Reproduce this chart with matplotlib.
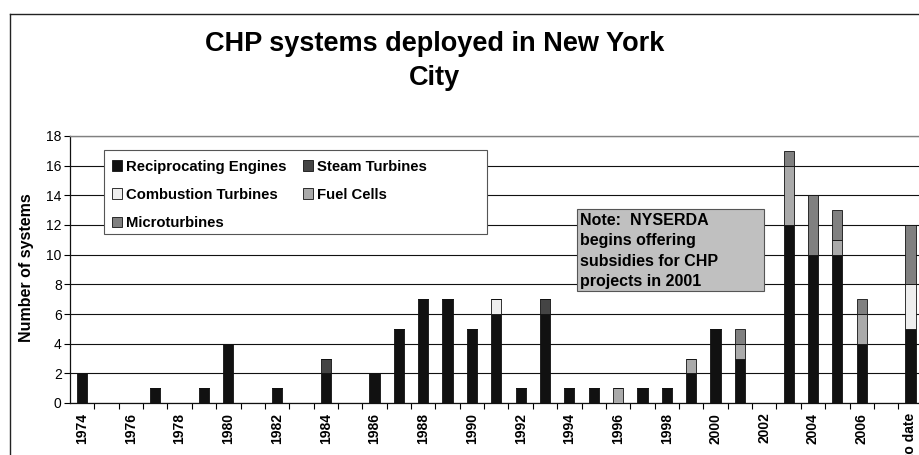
import matplotlib
matplotlib.use("Agg")
import matplotlib.pyplot as plt
import numpy as np

plt.rcParams['font.family'] = ['Liberation Sans', 'DejaVu Sans']

# categories (one per year, last one is cumulative "to date")
years = ['1974', '1975', '1976', '1977', '1978', '1979', '1980', '1981', '1982',
         '1983', '1984', '1985', '1986', '1987', '1988', '1989', '1990', '1991',
         '1992', '1993', '1994', '1995', '1996', '1997', '1998', '1999', '2000',
         '2001', '2002', '2003', '2004', '2005', '2006', '2007', '2008 to date']

# series
recip = [2, 0, 0, 1, 0, 1, 4, 0, 1, 0, 2, 0, 2, 5, 7, 7, 5, 6, 1, 6, 1, 1, 0, 1, 1,
         2, 5, 3, 0, 12, 10, 10, 4, 0, 5]
steam = [0, 0, 0, 0, 0, 0, 0, 0, 0, 0, 1, 0, 0, 0, 0, 0, 0, 0, 0, 1, 0, 0, 0, 0, 0,
         0, 0, 0, 0, 0, 0, 0, 0, 0, 0]
combustion = [0, 0, 0, 0, 0, 0, 0, 0, 0, 0, 0, 0, 0, 0, 0, 0, 0, 1, 0, 0, 0, 0, 0, 0, 0,
              0, 0, 0, 0, 0, 0, 0, 0, 0, 3]
fuel_cells = [0, 0, 0, 0, 0, 0, 0, 0, 0, 0, 0, 0, 0, 0, 0, 0, 0, 0, 0, 0, 0, 0, 1, 0, 0,
              1, 0, 1, 0, 4, 0, 1, 2, 0, 0]
micro = [0, 0, 0, 0, 0, 0, 0, 0, 0, 0, 0, 0, 0, 0, 0, 0, 0, 0, 0, 0, 0, 0, 0, 0, 0,
         0, 0, 1, 0, 1, 4, 2, 1, 0, 4]

series_names = ['Reciprocating Engines', 'Steam Turbines', 'Combustion Turbines',
                'Fuel Cells', 'Microturbines']
series_colors = ['#111111', '#444444', '#eeeeee', '#aaaaaa', '#808080']

W, H = 920, 455
fig = plt.figure(figsize=(W / 100, H / 100), dpi=100)


def fx(px):
    return px / W


def fy(py):
    return 1 - py / H


# chart area border: only its top and left edges are inside the picture
fig.add_artist(plt.Line2D([fx(10), 1.0], [fy(14), fy(14)], transform=fig.transFigure,
                          color='#222222', linewidth=1.0))
fig.add_artist(plt.Line2D([fx(10), fx(10)], [fy(14), 0.0], transform=fig.transFigure,
                          color='#222222', linewidth=1.0))

ax = fig.add_axes([fx(70), fy(403), (922.6 - 70) / W, (403 - 136) / H])

x = np.arange(len(years))
bottom = np.zeros(len(years))
handles = []
for vals, name, col in zip([recip, steam, combustion, fuel_cells, micro],
                           series_names, series_colors):
    vals = np.array(vals, dtype=float)
    b = ax.bar(x, vals, width=0.42, bottom=bottom, color=col,
               edgecolor='#111111', linewidth=0.6, label=name, zorder=3)
    handles.append(b)
    bottom += vals

ax.set_xlim(-0.5, len(years) - 0.5)
ax.set_ylim(0, 18)
ax.set_yticks(np.arange(0, 19, 2))
ax.tick_params(axis='y', direction='out', length=4, width=0.8, labelsize=10, pad=2)
ax.yaxis.grid(True, color='#111111', linewidth=0.8, zorder=0)

# labels on every other year, tick marks between categories
ax.set_xticks(x[::2])
ax.set_xticklabels(years[::2], rotation=90, fontsize=10, fontweight='bold')
ax.set_xticks(x[:-1] + 0.5, minor=True)
ax.tick_params(axis='x', which='major', length=0, pad=7)
ax.tick_params(axis='x', which='minor', direction='out', length=4, width=0.8)

for s in ['left', 'bottom']:
    ax.spines[s].set_color('#111111')
    ax.spines[s].set_linewidth(0.9)
ax.spines['top'].set_color('#808080')
ax.spines['top'].set_linewidth(1.0)
ax.spines['right'].set_visible(False)

fig.text(fx(27), fy(268), 'Number of systems', rotation=90, ha='center', va='center',
         fontsize=11.5, fontweight='bold')

fig.text(fx(435), fy(44), 'CHP systems deployed in New York', ha='center',
         va='center', fontsize=19.5, fontweight='bold')
fig.text(fx(435), fy(78), 'City', ha='center', va='center', fontsize=19.5,
         fontweight='bold')

# legend box is wider than its entries, as in the original
ax.add_patch(plt.Rectangle((fx(104), fy(234)), fx(487) - fx(104), fy(150) - fy(234),
                           transform=fig.transFigure, facecolor='white',
                           edgecolor='#555555', linewidth=0.8, zorder=4,
                           clip_on=False))
order = [0, 2, 4, 1, 3]
leg = ax.legend([handles[i] for i in order], [series_names[i] for i in order],
                ncol=2, loc='upper left', bbox_to_anchor=(fx(105), fy(153)),
                bbox_transform=fig.transFigure, frameon=False,
                prop={'weight': 'bold', 'size': 10.7},
                handlelength=0.7, handleheight=0.7, handletextpad=0.25,
                labelspacing=0.95, columnspacing=1.1, borderpad=0.45,
                borderaxespad=0)
leg.set_zorder(5)

# note box
ax.add_patch(plt.Rectangle((fx(577), fy(291)), fx(764) - fx(577), fy(209) - fy(291),
                           transform=fig.transFigure, facecolor='#c0c0c0',
                           edgecolor='#555555', linewidth=0.8, zorder=6,
                           clip_on=False))
ax.text(fx(580), fy(213), 'Note:  NYSERDA\nbegins offering\nsubsidies for CHP\nprojects in 2001',
        transform=fig.transFigure, ha='left', va='top', fontsize=11.5,
        fontweight='bold', linespacing=1.45, zorder=7)

fig.savefig('out.png', dpi=100)
